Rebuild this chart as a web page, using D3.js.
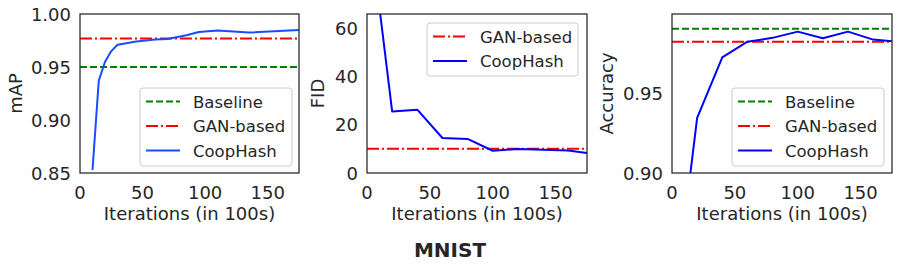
<!DOCTYPE html>
<meta charset="utf-8">
<style>
  body { margin: 0; background: #fff; }
  text { font-family: "DejaVu Sans", sans-serif; fill: #262626; }
  .frame { fill: none; stroke: #262626; stroke-width: 1.25px; }
  .legbox { fill: #fff; fill-opacity: 0.8; stroke: #cccccc; stroke-width: 1px; }
</style>
<body>
<script src="https://d3js.org/d3.v7.min.js"></script>
<script>
  // ---- data ----
  // mAP panel
  var mapIters = [10, 15, 20, 25, 30, 45, 60, 70, 85, 95, 110, 135, 175];
  var mapCoop = [0.853, 0.937, 0.955, 0.965, 0.971, 0.974, 0.976, 0.9765, 0.980, 0.983, 0.9845, 0.9825, 0.985];
  var mapBaseline = 0.95;
  var mapGan = 0.977;

  // FID panel
  var fidIters = [10, 20, 40, 60, 80, 100, 120, 140, 160, 175];
  var fidCoop = [68, 25.5, 26.2, 14.5, 14.1, 9.2, 9.9, 9.6, 9.3, 8.3];
  var fidGan = 10.0;

  // Accuracy panel
  var accIters = [10, 20, 40, 60, 80, 100, 120, 140, 160, 175];
  var accCoop = [0.87, 0.9346, 0.9727, 0.9826, 0.985, 0.9889, 0.9847, 0.9889, 0.9839, 0.9828];
  var accBaseline = 0.9907;
  var accGan = 0.9826;

  var xTicks = [0, 50, 100, 150];
  var mapTicks = [0.85, 0.90, 0.95, 1.00];
  var fidTicks = [0, 20, 40, 60];
  var accTicks = [0.90, 0.95];

  var width = 900, height = 268;
  var svg = d3.select("body").append("svg")
    .attr("width", width).attr("height", height);

  var plotTop = 14, plotBottom = 173;

  var panels = [
    { left: 80, right: 299, ylabel: "mAP", ydom: [0.85, 1.0], yticks: mapTicks, fmt: d3.format(".2f"),
      iters: mapIters, coop: mapCoop, coopColor: "#1a4cff", baseline: mapBaseline, gan: mapGan,
      legend: { x: 140, y: 88, w: 152, h: 78 } },
    { left: 367, right: 587, ylabel: "FID", ydom: [0, 65.8], yticks: fidTicks, fmt: d3.format("d"),
      iters: fidIters, coop: fidCoop, coopColor: "#0000ff", baseline: null, gan: fidGan,
      legend: { x: 427, y: 23, w: 151, h: 53 } },
    { left: 672, right: 892, ylabel: "Accuracy", ydom: [0.90, 1.0], yticks: accTicks, fmt: d3.format(".2f"),
      iters: accIters, coop: accCoop, coopColor: "#0000ff", baseline: accBaseline, gan: accGan,
      legend: { x: 732, y: 88, w: 152, h: 78 } }
  ];

  panels.forEach(function (p, i) {
    var x = d3.scaleLinear().domain([0, 175]).range([p.left, p.right]);
    var y = d3.scaleLinear().domain(p.ydom).range([plotBottom, plotTop]);
    var g = svg.append("g");

    var clipId = "clip" + i;
    svg.append("clipPath").attr("id", clipId)
      .append("rect").attr("x", p.left).attr("y", plotTop)
      .attr("width", p.right - p.left).attr("height", plotBottom - plotTop);

    var plot = g.append("g").attr("clip-path", "url(#" + clipId + ")");

    if (p.baseline !== null) {
      plot.append("line")
        .attr("x1", p.left).attr("x2", p.right)
        .attr("y1", y(p.baseline)).attr("y2", y(p.baseline))
        .attr("stroke", "#008000").attr("stroke-width", 2)
        .attr("stroke-dasharray", "7,3");
    }
    plot.append("line")
      .attr("x1", p.left).attr("x2", p.right)
      .attr("y1", y(p.gan)).attr("y2", y(p.gan))
      .attr("stroke", "#ff0000").attr("stroke-width", 2)
      .attr("stroke-dasharray", "12,3,2,3");

    var line = d3.line()
      .x(function (d, j) { return x(p.iters[j]); })
      .y(function (d) { return y(d); });
    plot.append("path")
      .datum(p.coop)
      .attr("fill", "none")
      .attr("stroke", p.coopColor)
      .attr("stroke-width", 2)
      .attr("stroke-linejoin", "round")
      .attr("d", line);

    // frame
    g.append("rect").attr("class", "frame")
      .attr("x", p.left).attr("y", plotTop)
      .attr("width", p.right - p.left).attr("height", plotBottom - plotTop);

    // x ticks
    g.selectAll(".xt").data(xTicks).enter().append("text")
      .attr("x", function (d) { return x(d); })
      .attr("y", plotBottom + 26)
      .attr("text-anchor", "middle")
      .style("font-size", "18px")
      .text(function (d) { return d; });

    // y ticks
    g.selectAll(".yt").data(p.yticks).enter().append("text")
      .attr("x", p.left - 9)
      .attr("y", function (d) { return y(d) + 6.5; })
      .attr("text-anchor", "end")
      .style("font-size", "18px")
      .text(function (d) { return p.fmt(d); });

    g.append("text")
      .attr("x", (p.left + p.right) / 2)
      .attr("y", plotBottom + 47)
      .attr("text-anchor", "middle")
      .style("font-size", "18px")
      .text("Iterations (in 100s)");

    var ylx = i === 0 ? 22 : (i === 1 ? 324 : 613);
    g.append("text")
      .attr("transform", "translate(" + ylx + "," + ((plotTop + plotBottom) / 2) + ") rotate(-90)")
      .attr("text-anchor", "middle")
      .style("font-size", "18px")
      .text(p.ylabel);

    // legend
    var L = p.legend;
    var lg = g.append("g");
    lg.append("rect").attr("class", "legbox")
      .attr("x", L.x).attr("y", L.y).attr("width", L.w).attr("height", L.h)
      .attr("rx", 3);
    var items = [];
    if (p.baseline !== null) items.push({ name: "Baseline", color: "#008000", dash: "7,3" });
    items.push({ name: "GAN-based", color: "#ff0000", dash: "12,3,2,3" });
    items.push({ name: "CoopHash", color: p.coopColor, dash: null });
    items.forEach(function (it, k) {
      var cy = L.y + 13.5 + k * 24.5;
      var ln = lg.append("line")
        .attr("x1", L.x + 6).attr("x2", L.x + 40)
        .attr("y1", cy).attr("y2", cy)
        .attr("stroke", it.color).attr("stroke-width", 2);
      if (it.dash) ln.attr("stroke-dasharray", it.dash);
      lg.append("text")
        .attr("x", L.x + 53).attr("y", cy + 6)
        .style("font-size", "16.5px")
        .text(it.name);
    });
  });

  svg.append("text")
    .attr("x", 450).attr("y", 256.5)
    .attr("text-anchor", "middle")
    .style("font-size", "20px")
    .style("font-weight", "bold")
    .text("MNIST");
</script>
</body>
